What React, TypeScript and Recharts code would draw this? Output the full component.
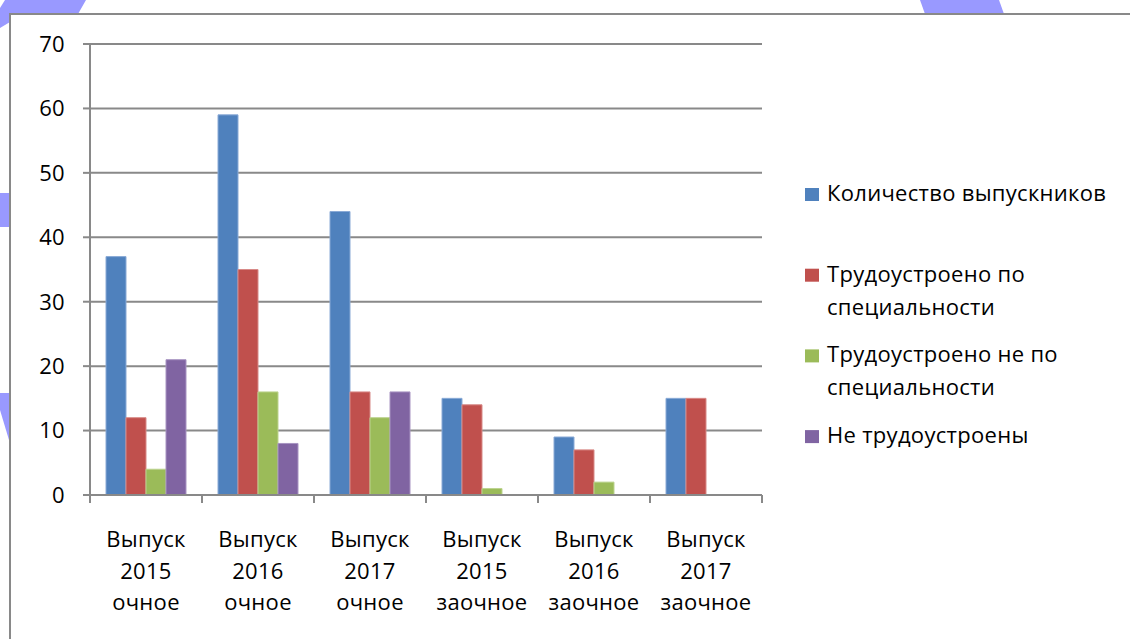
import React from 'react';
import { BarChart, Bar, XAxis, YAxis, CartesianGrid, Legend } from 'recharts';

const categories = [
  'Выпуск 2015 очное',
  'Выпуск 2016 очное',
  'Выпуск 2017 очное',
  'Выпуск 2015 заочное',
  'Выпуск 2016 заочное',
  'Выпуск 2017 заочное',
];
const seriesNames = [
  'Количество выпускников',
  'Трудоустроено по специальности',
  'Трудоустроено не по специальности',
  'Не трудоустроены',
];
const graduates = [37, 59, 44, 15, 9, 15];
const employedInField = [12, 35, 16, 14, 7, 15];
const employedOutField = [4, 16, 12, 1, 2, 0];
const unemployed = [21, 8, 16, 0, 0, 0];
const yTicks = [0, 10, 20, 30, 40, 50, 60, 70];

const colors = ['#4F81BD', '#C0504D', '#9BBB59', '#8064A2'];
const strokes = ['#8AAAD6', '#D88A88', '#BCD38F', '#A894C2'];
const seriesValues = [graduates, employedInField, employedOutField, unemployed];
const keys = ['s0', 's1', 's2', 's3'];

const data = categories.map((c, i) => {
  const row: any = { name: c };
  keys.forEach((k, j) => (row[k] = seriesValues[j][i]));
  return row;
});

const FONT = '"Open Sans", "Noto Sans", sans-serif';
const FS = 22;
const LS = 0.3;
const AXIS = '#898989';
const W = 1130;
const H = 639;
const M = { top: 44, right: 368, bottom: 14, left: 30 };
const Y_W = 60;
const X_H = 130;
const plotW = W - M.left - Y_W - M.right;
const band = plotW / categories.length;

const XTick = (props: any) => {
  const { x, y, payload, index } = props;
  const words = String(payload.value).split(' ');
  const lineYs = [52, 83.5, 115];
  return (
    <g>
      <line x1={x - band / 2} x2={x - band / 2} y1={y} y2={y + 8} stroke={AXIS} strokeWidth={2} />
      {index === categories.length - 1 && (
        <line x1={x + band / 2} x2={x + band / 2} y1={y} y2={y + 8} stroke={AXIS} strokeWidth={2} />
      )}
      {words.map((w, i) => (
        <text
          key={i}
          x={x}
          y={y + lineYs[i]}
          textAnchor="middle"
          fontSize={FS}
          fontFamily={FONT}
          letterSpacing={LS}
          fill="#000"
        >
          {w}
        </text>
      ))}
    </g>
  );
};

const wrap = (s: string, max: number) => {
  const out: string[] = [];
  let cur = '';
  s.split(' ').forEach((w) => {
    const next = cur ? cur + ' ' + w : w;
    if (next.length > max && cur) {
      out.push(cur);
      cur = w;
    } else cur = next;
  });
  if (cur) out.push(cur);
  return out;
};

const LegendContent = (props: any) => {
  const payload = [...(props.payload || [])].sort(
    (a: any, b: any) => seriesNames.indexOf(a.value) - seriesNames.indexOf(b.value)
  );
  return (
    <svg width={W} height={H} style={{ position: 'absolute', left: 0, top: 0, pointerEvents: 'none' }}>
      {payload.map((p: any, i: number) => {
        const base = 201 + i * 80.7;
        const lines = wrap(String(p.value), 22);
        return (
          <g key={i}>
            <rect x={805} y={base - 13} width={14} height={13} fill={p.color} />
            {lines.map((l, j) => (
              <text
                key={j}
                x={827}
                y={base + j * 33}
                fontSize={FS}
                fontFamily={FONT}
                letterSpacing={LS}
                fill="#000"
              >
                {l}
              </text>
            ))}
          </g>
        );
      })}
    </svg>
  );
};

export default function App() {
  return (
    <div style={{ position: 'absolute', left: 0, top: 0, width: W, height: H, overflow: 'hidden', background: '#fff' }}>
      <svg width={W} height={H} style={{ position: 'absolute', left: 0, top: 0 }}>
        <polygon points="5,0 86,0 78,14 10,14 10,22 0,28 0,8" fill="#9999FF" />
        <polygon points="920,0 999,0 1004,14 925,14" fill="#9999FF" />
        <rect x={0} y={193} width={9} height={34} fill="#9999FF" />
        <polygon points="0,393 9,393 9,440 0,410" fill="#9999FF" />
      </svg>
      <div
        style={{
          position: 'absolute',
          left: 9,
          top: 13,
          width: 1300,
          height: 800,
          border: `2px solid ${AXIS}`,
          background: '#fff',
        }}
      />
      <div style={{ position: 'absolute', left: 0, top: 0 }}>
        <BarChart width={W} height={H} data={data} margin={M} barCategoryGap={16} barGap={0}>
          <CartesianGrid vertical={false} stroke={AXIS} strokeWidth={2} />
          <XAxis
            dataKey="name"
            height={X_H}
            interval={0}
            tickLine={false}
            tickSize={0}
            tickMargin={0}
            stroke={AXIS}
            strokeWidth={2}
            tick={<XTick />}
          />
          <YAxis
            width={Y_W}
            domain={[0, 70]}
            ticks={yTicks}
            interval={0}
            tickSize={7}
            tickMargin={18}
            stroke={AXIS}
            strokeWidth={2}
            tick={{ fontSize: FS, fontFamily: FONT, fill: '#000', letterSpacing: LS }}
          />
          <Legend
            layout="horizontal"
            verticalAlign="middle"
            align="center"
            content={<LegendContent />}
            wrapperStyle={{ position: 'absolute', left: 0, top: 0, width: W, height: H }}
          />
          {keys.map((k, i) => (
            <Bar
              key={k}
              dataKey={k}
              name={seriesNames[i]}
              fill={colors[i]}
              stroke={strokes[i]}
              strokeWidth={1}
              isAnimationActive={false}
            />
          ))}
        </BarChart>
      </div>
    </div>
  );
}
